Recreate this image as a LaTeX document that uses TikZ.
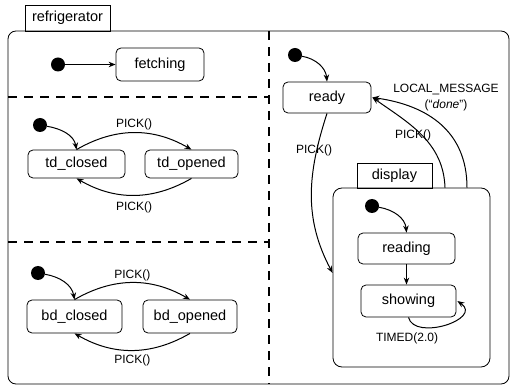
\documentclass[tikz,border=0pt]{standalone}
\usepackage{fontspec}
\setmainfont{Liberation Sans}
\usetikzlibrary{arrows.meta}

\tikzset{
  statebox/.style={draw, rounded corners=5pt, line width=0.8pt, inner sep=0pt,
    font=\fontsize{14.5}{17}\selectfont},
  tabbox/.style={draw, line width=0.8pt, inner sep=0pt,
    font=\fontsize{14.5}{17}\selectfont},
  initdot/.style={circle, fill=black, inner sep=0pt, minimum size=14pt},
  trans/.style={line width=1pt, -{Stealth[length=7pt,width=5.5pt]}},
  evlabel/.style={font=\fontsize{12}{14}\selectfont, inner sep=1pt},
  partition/.style={line width=1.3pt, dash pattern=on 9pt off 7pt},
}

\begin{document}
\begin{tikzpicture}[x=1pt, y=-1pt]
\useasboundingbox (0,0) rectangle (511,387);

% composite state "refrigerator" with its name tab
\node[draw, rounded corners=8pt, line width=0.8pt, minimum width=501pt,
      minimum height=353pt] (fridge) at (258.5,207.5) {};
\node[tabbox, minimum width=85pt, minimum height=26pt] (fridgetab) at (67.5,18) {refrigerator};

% concurrent regions
\draw[partition] (269,31) -- (269,384);
\draw[partition] (8,97) -- (269,97);
\draw[partition] (8,242) -- (269,242);

% region 1
\node[initdot] (i1) at (58,64.5) {};
\node[statebox, minimum width=88pt, minimum height=33pt] (fetching) at (160,64.5) {fetching};
\draw[trans] (i1) -- (fetching.west);

% region 2: top door
\node[initdot] (i2) at (40,125) {};
\node[statebox, minimum width=97pt, minimum height=28pt] (tdc) at (76.5,164) {td\_closed};
\node[statebox, minimum width=93pt, minimum height=28pt] (tdo) at (191.5,164) {td\_opened};
\draw[trans] (i2) to[out=-10, in=100] (tdc.north);
\draw[trans] (tdc.north) to[bend left=30] node[evlabel, above=1pt] {PICK()} (tdo.north);
\draw[trans] (tdo.south) to[bend left=30] node[evlabel, below=5pt] {PICK()} (tdc.south);

% region 3: bottom door
\node[initdot] (i3) at (38,273) {};
\node[statebox, minimum width=95pt, minimum height=33pt] (bdc) at (74.5,316.5) {bd\_closed};
\node[statebox, minimum width=94pt, minimum height=33pt] (bdo) at (190,316.5) {bd\_opened};
\draw[trans] (i3) to[out=-10, in=100] (bdc.north);
\draw[trans] (bdc.north) to[bend left=30] node[evlabel, above] {PICK()} (bdo.north);
\draw[trans] (bdo.south) to[bend left=30] node[evlabel, below=3pt] {PICK()} (bdc.south);

% region 4: ready / display
\node[initdot] (i4) at (295,55) {};
\node[statebox, minimum width=88pt, minimum height=31pt] (ready) at (327,97.5) {ready};
\draw[trans] (i4) to[out=-10, in=95] (ready.north);

\node[draw, rounded corners=9pt, line width=0.8pt, minimum width=157pt,
      minimum height=179pt] (display) at (411.5,277.5) {};
\node[tabbox, minimum width=75pt, minimum height=25pt] (displaytab) at (394.5,175.5) {display};

\node[initdot] (i5) at (372,206) {};
\node[statebox, minimum width=97pt, minimum height=31pt] (reading) at (406.5,248.5) {reading};
\node[statebox, minimum width=95pt, minimum height=32pt] (showing) at (408.5,301) {showing};
\draw[trans] (i5) to[out=-10, in=95] (reading.north);
\draw[trans] (reading.south) -- (reading.south |- showing.north);
% self transition looping under and round the right side of "showing"
\draw[trans] (showing.south) .. controls +(6,24) and +(26,18) .. ([xshift=1pt]showing.east);
\node[evlabel] (timedlbl) at (407,338) {TIMED(2.0)};

\draw[trans] (ready.south) to[out=-108, in=118] ([yshift=4.5pt]display.west);
\node[evlabel] (picklbl1) at (314,150) {PICK()};

\draw[trans] ([xshift=33.5pt]display.north) to[out=92, in=-35] ([xshift=1pt]ready.east);
\node[evlabel] (picklbl2) at (413,135) {PICK()};

\draw[trans] ([xshift=55.5pt]display.north) to[out=90, in=-8, looseness=1.1] ([xshift=1pt]ready.east);
\node[evlabel, align=center] (localmsg) at (446,97.5)
  {LOCAL\_MESSAGE\\[2pt](“\textit{done}”)};
\end{tikzpicture}
\end{document}
